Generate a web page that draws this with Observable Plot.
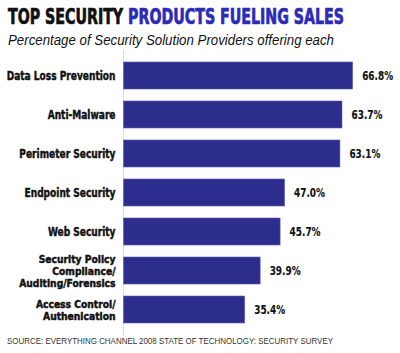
<!DOCTYPE html>
<html><head><meta charset="utf-8">
<script src="https://cdn.jsdelivr.net/npm/d3@7"></script>
<script src="https://cdn.jsdelivr.net/npm/@observablehq/plot@0.6"></script>
<style>
body{margin:0;background:#fff;width:400px;height:353px;overflow:hidden;position:relative;}
.fit{position:absolute;white-space:nowrap;transform-origin:0 0;display:inline-block;}
#title{left:8px;top:6px;font-family:"DejaVu Sans Condensed","DejaVu Sans",sans-serif;font-weight:bold;font-size:21px;line-height:23px;-webkit-text-stroke:0.7px currentColor;}
#subtitle{left:8px;top:31px;font-family:"Liberation Sans",Arial,sans-serif;font-style:italic;font-size:15px;line-height:17px;color:#111;}
#source{left:7px;top:336px;font-family:"Liberation Sans",Arial,sans-serif;font-size:9px;line-height:10px;color:#333;}
#chart{position:absolute;left:0;top:40px;}
</style></head><body>
<div id="title" class="fit"><span style="color:#111">TOP SECURITY </span><span style="color:#2b2bb8">PRODUCTS FUELING SALES</span></div>
<div id="subtitle" class="fit">Percentage of Security Solution Providers offering each</div>
<div id="chart"></div>
<div id="source" class="fit">SOURCE: EVERYTHING CHANNEL 2008 STATE OF TECHNOLOGY: SECURITY SURVEY</div>
<script>
const categories = [
  "Data Loss Prevention",
  "Anti-Malware",
  "Perimeter Security",
  "Endpoint Security",
  "Web Security",
  "Security Policy\nCompliance/\nAuditing/Forensics",
  "Access Control/\nAuthenication"
];
const values = [66.8, 63.7, 63.1, 47.0, 45.7, 39.9, 35.4];
const valueLabels = ["66.8%", "63.7%", "63.1%", "47.0%", "45.7%", "39.9%", "35.4%"];

const data = categories.map((c, i) => ({cat: c, value: values[i], label: valueLabels[i], multi: c.includes("\n")}));
const single = data.filter(d => !d.multi);
const multi = data.filter(d => d.multi);

const font = "DejaVu Sans Condensed, DejaVu Sans, sans-serif";
const plot = Plot.plot({
  width: 400,
  height: 300,
  marginLeft: 123,
  marginRight: 2,
  marginTop: 10,
  marginBottom: 4,
  x: {domain: [0, 80], axis: null},
  y: {domain: categories, padding: 0.3, axis: null},
  style: {background: "transparent"},
  marks: [
    Plot.ruleX([0], {stroke: "#dcdcdc", strokeWidth: 1}),
    Plot.barX(data, {x: "value", y: "cat", fill: "#2d2d8e", stroke: "#5a5ab8", strokeWidth: 0.6, insetLeft: 0.5}),
    Plot.text(single, {x: 0, y: "cat", text: "cat", dx: -8, textAnchor: "end",
      fontFamily: font, fontWeight: "bold", fontSize: 12.5, fill: "#111", stroke: "#111", strokeWidth: 0.45}),
    Plot.text(multi, {x: 0, y: "cat", text: "cat", dx: -8, textAnchor: "end", lineHeight: 1.17,
      fontFamily: font, fontWeight: "bold", fontSize: 10.2, fill: "#111", stroke: "#111", strokeWidth: 0.45}),
    Plot.text(data, {x: "value", y: "cat", text: "label", dx: 9, textAnchor: "start",
      fontFamily: font, fontWeight: "bold", fontSize: 12.5, fill: "#111", stroke: "#111", strokeWidth: 0.15})
  ]
});
document.getElementById("chart").appendChild(plot);

// compress condensed text to match reference widths
function fitHtml(id, target) {
  const el = document.getElementById(id);
  const w = el.getBoundingClientRect().width;
  el.style.transform = `scaleX(${target / w})`;
}
fitHtml("title", 336);
fitHtml("subtitle", 326);
fitHtml("source", 326);

const groups = plot.querySelectorAll('g[aria-label="text"]');
function applyScale(group, k) {
  group.querySelectorAll("text").forEach(t =>
    t.setAttribute("transform", t.getAttribute("transform") + ` scale(${k},1)`));
}
function widthOf(group, refText) {
  const texts = Array.from(group.querySelectorAll("text"));
  const ref = texts.find(t => t.textContent.startsWith(refText)) || texts[0];
  return ref.getBBox().width;
}
applyScale(groups[0], 109 / widthOf(groups[0], "Data Loss Prevention"));
applyScale(groups[1], 97 / widthOf(groups[1], "Security Policy"));
applyScale(groups[2], 31 / widthOf(groups[2], "66.8%"));
</script>
</body></html>
